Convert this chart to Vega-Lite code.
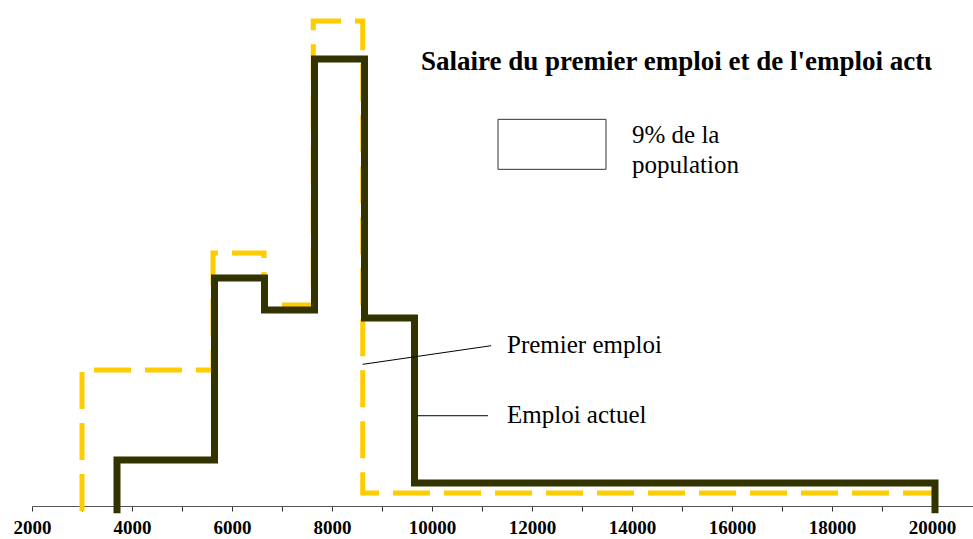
{
  "$schema": "https://vega.github.io/schema/vega-lite/v6.json",
  "width": 941,
  "height": 506,
  "autosize": {"type": "none"},
  "padding": {"left": 32, "top": 0, "right": 0, "bottom": 33},
  "background": "white",
  "config": {"view": {"stroke": null}},
  "datasets": {
    "steps": [
      {"s": "Premier emploi", "i": 0, "x": 3000, "y": -0.9},
      {"s": "Premier emploi", "i": 1, "x": 3000, "y": 24.48},
      {"s": "Premier emploi", "i": 2, "x": 5620, "y": 24.48},
      {"s": "Premier emploi", "i": 3, "x": 5620, "y": 45.54},
      {"s": "Premier emploi", "i": 4, "x": 6640, "y": 45.54},
      {"s": "Premier emploi", "i": 5, "x": 6640, "y": 36.18},
      {"s": "Premier emploi", "i": 6, "x": 7625, "y": 36.18},
      {"s": "Premier emploi", "i": 7, "x": 7625, "y": 87.3},
      {"s": "Premier emploi", "i": 8, "x": 8615, "y": 87.3},
      {"s": "Premier emploi", "i": 9, "x": 8615, "y": 2.34},
      {"s": "Premier emploi", "i": 10, "x": 20040, "y": 2.34},
      {"s": "Premier emploi", "i": 11, "x": 20040, "y": -0.9},
      {"s": "Emploi actuel", "i": 0, "x": 3700, "y": -1.3},
      {"s": "Emploi actuel", "i": 1, "x": 3700, "y": 8.28},
      {"s": "Emploi actuel", "i": 2, "x": 5650, "y": 8.28},
      {"s": "Emploi actuel", "i": 3, "x": 5650, "y": 41.04},
      {"s": "Emploi actuel", "i": 4, "x": 6650, "y": 41.04},
      {"s": "Emploi actuel", "i": 5, "x": 6650, "y": 35.28},
      {"s": "Emploi actuel", "i": 6, "x": 7650, "y": 35.28},
      {"s": "Emploi actuel", "i": 7, "x": 7650, "y": 80.46},
      {"s": "Emploi actuel", "i": 8, "x": 8650, "y": 80.46},
      {"s": "Emploi actuel", "i": 9, "x": 8650, "y": 33.84},
      {"s": "Emploi actuel", "i": 10, "x": 9650, "y": 33.84},
      {"s": "Emploi actuel", "i": 11, "x": 9650, "y": 4.14},
      {"s": "Emploi actuel", "i": 12, "x": 20060, "y": 4.14},
      {"s": "Emploi actuel", "i": 13, "x": 20060, "y": -1.3}
    ],
    "labels": [
      {"t": "9% de la", "x": 14000, "y": 65.29},
      {"t": "population", "x": 14000, "y": 60.03},
      {"t": "Premier emploi", "x": 11500, "y": 27.54},
      {"t": "Emploi actuel", "x": 11500, "y": 14.94}
    ],
    "leaders": [
      {"x": 8614, "y": 25.5, "x2": 11180, "y2": 28.85},
      {"x": 9700, "y": 16.25, "x2": 11120, "y2": 16.25}
    ],
    "box": [{"x": 11320, "x2": 13480, "y": 60.6, "y2": 69.6}],
    "title": [{"t": "Salaire du premier emploi et de l'emploi actuel", "x": 9780, "y": 78.48}],
    "mask": [{"x": 19994, "x2": 21500, "y": 73.0, "y2": 85}]
  },
  "layer": [
    {
      "data": {"name": "steps"},
      "transform": [{"filter": "datum.s === 'Premier emploi'"}],
      "mark": {"type": "line", "color": "#FFCC00", "strokeWidth": 5, "strokeDash": [37, 14], "strokeJoin": "miter", "strokeCap": "butt", "clip": false},
      "encoding": {
        "x": {"field": "x", "type": "quantitative", "scale": {"domain": [2000, 20820], "nice": false, "zero": false},
          "axis": {"values": [2000,3000,4000,5000,6000,7000,8000,9000,10000,11000,12000,13000,14000,15000,16000,17000,18000,19000,20000],
            "format": "d", "labelExpr": "datum.value % 2000 === 0 ? datum.label : ''", "title": null, "grid": false,
            "domainColor": "#555555", "domainWidth": 1, "tickColor": "#333333", "tickSize": 5, "tickWidth": 1,
            "labelFont": "Liberation Serif", "labelFontWeight": "bold", "labelFontSize": 19, "labelColor": "#000000",
            "labelPadding": 7, "labelOverlap": false, "labelFlush": false}},
        "y": {"field": "y", "type": "quantitative", "scale": {"domain": [0, 91.08], "nice": false, "zero": false}, "axis": null},
        "order": {"field": "i", "type": "quantitative"}
      }
    },
    {
      "data": {"name": "steps"},
      "transform": [{"filter": "datum.s === 'Emploi actuel'"}],
      "mark": {"type": "line", "color": "#333300", "strokeWidth": 7, "strokeJoin": "miter", "strokeCap": "butt", "clip": false},
      "encoding": {
        "x": {"field": "x", "type": "quantitative"},
        "y": {"field": "y", "type": "quantitative"},
        "order": {"field": "i", "type": "quantitative"}
      }
    },
    {
      "data": {"name": "box"},
      "mark": {"type": "rect", "fill": "white", "stroke": "#333333", "strokeWidth": 1},
      "encoding": {
        "x": {"field": "x", "type": "quantitative"}, "x2": {"field": "x2"},
        "y": {"field": "y", "type": "quantitative"}, "y2": {"field": "y2"}
      }
    },
    {
      "data": {"name": "leaders"},
      "mark": {"type": "rule", "color": "#000000", "strokeWidth": 1},
      "encoding": {
        "x": {"field": "x", "type": "quantitative"}, "x2": {"field": "x2"},
        "y": {"field": "y", "type": "quantitative"}, "y2": {"field": "y2"}
      }
    },
    {
      "data": {"name": "labels"},
      "mark": {"type": "text", "align": "left", "baseline": "alphabetic", "font": "Liberation Serif", "fontSize": 25, "color": "#000000"},
      "encoding": {
        "x": {"field": "x", "type": "quantitative"},
        "y": {"field": "y", "type": "quantitative"},
        "text": {"field": "t"}
      }
    },
    {
      "data": {"name": "title"},
      "mark": {"type": "text", "align": "left", "baseline": "alphabetic", "font": "Liberation Serif", "fontSize": 27, "fontWeight": "bold", "color": "#000000"},
      "encoding": {
        "x": {"field": "x", "type": "quantitative"},
        "y": {"field": "y", "type": "quantitative"},
        "text": {"field": "t"}
      }
    },
    {
      "data": {"name": "mask"},
      "mark": {"type": "rect", "fill": "white", "strokeWidth": 0, "clip": false},
      "encoding": {
        "x": {"field": "x", "type": "quantitative"}, "x2": {"field": "x2"},
        "y": {"field": "y", "type": "quantitative"}, "y2": {"field": "y2"}
      }
    }
  ]
}
